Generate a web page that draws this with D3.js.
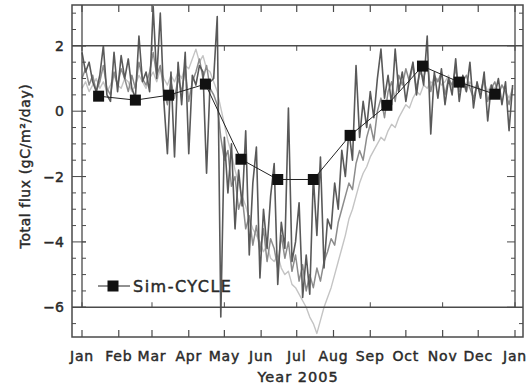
<!DOCTYPE html>
<html>
<head>
<meta charset="utf-8">
<script src="https://cdn.jsdelivr.net/npm/d3@7"></script>
<style>
  html, body { margin: 0; padding: 0; background: #fff; }
  svg { display: block; }
  text { font-family: "DejaVu Sans", sans-serif; fill: #2a2a2a; stroke: #2a2a2a; stroke-width: 0.45px; }
</style>
</head>
<body>
<svg id="chart" width="527" height="385"></svg>
<script>
// ---------------- data ----------------
const monthLabels = ["Jan","Feb","Mar","Apr","May","Jun","Jul","Aug","Sep","Oct","Nov","Dec","Jan"];
const yTickValues = [2, 0, -2, -4, -6];
const yearLabel = "Year 2005";
const yTitle = "Total flux (gC/m\u00B2/day)";
const legendLabel = "Sim-CYCLE";

// Sim-CYCLE monthly values (mid-month)
const simMonthIndex = [0,1,2,3,4,5,6,7,8,9,10,11];
const simValues = [0.46, 0.34, 0.49, 0.83, -1.47, -2.09, -2.09, -0.74, 0.18, 1.38, 0.89, 0.52];

// daily series sampled every 3 days starting Jan 1
const firstDay = 1, dayStep = 3;
const obsDark = [
  1.8, 1.2, 1.5, 0.9, 0.6, 1.1, 2.0, 0.5, 0.3, 1.8,
  0.6, 1.7, 1.0, 1.6, 0.7, 0.4, 2.3, 0.9, 1.2, 0.6,
  3.2, 1.0, 3.0, 0.3, -1.3, 1.2, -1.4, 1.5, 0.2, 1.8,
  -1.3, 1.1, 0.8, 1.4, 1.2, -1.9, 0.9, 1.0, 2.9, -6.3,
  -0.8, -2.5, -1.0, -3.6, -1.8, -2.9, -0.6, -4.4, -2.2, -1.1,
  -5.1, -3.0, -4.2, -2.6, -1.6, -5.3, -3.4, -4.2, 0.1, -4.6,
  -4.0, -2.8, -5.7, -4.4, -5.6, -2.0, -3.8, -1.4, -4.8, -3.3,
  -3.6, -2.2, -3.0, -1.2, -2.0, -0.6, -1.5, 1.4, -0.8, 0.3,
  -0.5, 0.6, -0.2, 1.0, 1.9, 0.4, 1.1, 0.2, 1.9, 0.6,
  1.2, 0.3, 1.0, 1.5, 0.5, 1.4, 0.8, 2.3, -0.7, 1.2,
  0.4, 1.3, 0.2, 1.0, 0.5, 1.6, 0.3, 1.1, 0.6, 1.5,
  0.1, 0.9, 0.4, 1.2, -0.3, 0.8, 0.5, 1.0, 0.2, 0.9,
  -0.6, 0.8
];
const obsMedium = [
  1.0, 1.3, 0.8, 1.1, 0.6, 0.9, 1.4, 0.7, 0.5, 1.2,
  0.8, 1.3, 1.0, 0.6, 1.1, 0.7, 1.5, 1.0, 0.8, 1.2,
  1.8, 1.1, 1.4, 0.6, 0.2, 0.9, 0.4, 1.0, 0.6, 1.3,
  0.3, 0.9, 1.2, 1.6, 1.0, 1.4, 0.7, 0.5, 0.2, -0.8,
  -1.5, -1.2, -2.3, -2.0, -3.0, -2.6, -3.6, -3.2, -4.1, -3.5,
  -4.3, -3.6, -4.6, -3.9, -4.2, -4.8, -3.8, -4.5, -4.0, -4.9,
  -4.4, -5.2, -4.7, -5.5, -5.0, -5.4, -4.8, -5.2, -4.6, -4.3,
  -3.9, -4.1, -3.4, -3.0, -2.6, -2.2, -2.4, -1.6, -1.2, -1.5,
  -0.8, -0.4, -0.9, 0.0, 0.4, -0.2, 0.6, 0.9, 0.3, 1.1,
  0.8, 1.3, 0.9, 1.4, 0.7, 1.2, 1.0, 1.5, 0.6, 1.1,
  0.9, 1.2, 0.5, 1.0, 0.8, 1.3, 0.6, 0.9, 1.1, 0.7,
  0.4, 0.8, 0.6, 1.0, 0.3, 0.7, 0.9, 0.5, 0.8, 0.6,
  0.2, 0.7
];
const obsLight = [
  0.7, 0.9, 0.6, 0.8, 1.0, 0.7, 0.9, 0.6, 0.8, 1.1,
  0.8, 0.7, 1.0, 0.9, 0.6, 0.8, 1.1, 0.9, 0.7, 1.0,
  1.2, 0.9, 1.3, 1.0, 0.8, 1.1, 0.9, 1.2, 1.0, 1.4,
  1.3, 1.6, 1.9, 1.5, 1.7, 1.3, 1.2, 0.9, 0.6, 0.1,
  -0.4, -0.9, -1.3, -1.8, -2.2, -2.6, -2.9, -3.3, -3.6, -3.8,
  -4.0, -4.3, -4.1, -4.5, -4.6, -4.4, -4.8, -5.0, -4.9, -5.3,
  -5.4, -5.6, -5.8, -6.0, -6.3, -6.5, -6.8, -6.4, -6.0, -5.7,
  -5.4, -5.0, -4.6, -4.2, -3.8, -3.3, -3.0, -2.6, -2.2, -1.9,
  -1.7, -1.4, -1.2, -1.0, -0.8, -0.9, -0.6, -0.4, -0.5, -0.2,
  0.0, 0.2, 0.1, 0.4, 0.6, 0.5, 0.8, 0.7, 0.9, 0.8,
  1.0, 0.8, 0.9, 1.1, 0.7, 0.9, 1.0, 0.8, 0.6, 0.9,
  0.7, 0.8, 0.5, 0.9, 0.6, 0.8, 0.7, 0.5, 0.8, 0.6,
  0.4, 0.7
];

// ---------------- layout ----------------
const svg = d3.select("#chart");
const outer = {left: 72, right: 523, top: 5, bottom: 337};
const inner = {left: 82, right: 515};

const x = d3.scaleTime()
  .domain([new Date(2005, 0, 1), new Date(2006, 0, 1)])
  .range([inner.left, inner.right]);
const y = d3.scaleLinear()
  .domain([-6.91, 3.25])
  .range([outer.bottom, outer.top]);

const dayDate = (i) => new Date(2005, 0, firstDay + i * dayStep);

svg.append("rect").attr("width", 527).attr("height", 385).attr("fill", "#fff");

svg.append("clipPath").attr("id", "clip")
  .append("rect")
  .attr("x", outer.left).attr("y", outer.top)
  .attr("width", outer.right - outer.left).attr("height", outer.bottom - outer.top);

const plot = svg.append("g").attr("clip-path", "url(#clip)");

const line = d3.line()
  .x((d, i) => x(dayDate(i)))
  .y(d => y(d));

[[obsLight, "#c4c4c4", 1.4], [obsMedium, "#8c8c8c", 1.5], [obsDark, "#595959", 1.6]].forEach(([data, color, w]) => {
  plot.append("path")
    .datum(data)
    .attr("d", line)
    .attr("fill", "none")
    .attr("stroke", color)
    .attr("stroke-width", w)
    .attr("stroke-linejoin", "round");
});

// Sim-CYCLE
const simPts = simMonthIndex.map((m, i) => ({date: new Date(2005, m, 15), v: simValues[i]}));
plot.append("path")
  .datum(simPts)
  .attr("d", d3.line().x(d => x(d.date)).y(d => y(d.v)))
  .attr("fill", "none").attr("stroke", "#222").attr("stroke-width", 1);
const sq = 11;
plot.selectAll("rect.sim").data(simPts).join("rect")
  .attr("class", "sim")
  .attr("x", d => x(d.date) - sq / 2).attr("y", d => y(d.v) - sq / 2)
  .attr("width", sq).attr("height", sq).attr("fill", "#111");

// ---------------- frame ----------------
const frameColor = "#4a4a4a";
const frame = svg.append("g").attr("stroke", frameColor).attr("fill", "none");
frame.append("rect")
  .attr("x", outer.left).attr("y", outer.top)
  .attr("width", outer.right - outer.left).attr("height", outer.bottom - outer.top)
  .attr("stroke-width", 1.5);
[2, -6].forEach(v => {
  frame.append("line").attr("x1", outer.left).attr("x2", outer.right)
    .attr("y1", y(v)).attr("y2", y(v)).attr("stroke-width", 1.5);
});
[inner.left, inner.right].forEach(xx => {
  frame.append("line").attr("x1", xx).attr("x2", xx)
    .attr("y1", outer.top).attr("y2", y(-6)).attr("stroke-width", 1.3);
});

// y ticks
const minorVals = d3.range(-6.5, 3.01, 0.5);
minorVals.forEach(v => {
  const major = Math.abs(v % 2) < 1e-9;
  frame.append("line").attr("x1", outer.left).attr("x2", outer.left + (major ? 14 : 4))
    .attr("y1", y(v)).attr("y2", y(v)).attr("stroke-width", 1);
  if (v >= -6 && v <= 2) {
    frame.append("line").attr("x1", inner.left).attr("x2", inner.left + 4)
      .attr("y1", y(v)).attr("y2", y(v)).attr("stroke-width", 1);
    frame.append("line").attr("x1", inner.right).attr("x2", inner.right - (major ? 8 : 4))
      .attr("y1", y(v)).attr("y2", y(v)).attr("stroke-width", 1);
  } else {
    frame.append("line").attr("x1", outer.right).attr("x2", outer.right - (major ? 8 : 4))
      .attr("y1", y(v)).attr("y2", y(v)).attr("stroke-width", 1);
  }
});

// x ticks
const monthDates = d3.range(13).map(m => new Date(2005, m, 1));
monthDates.forEach((d, m) => {
  frame.append("line").attr("x1", x(d)).attr("x2", x(d))
    .attr("y1", outer.bottom).attr("y2", outer.bottom - 7).attr("stroke-width", 1.2);
  frame.append("line").attr("x1", x(d)).attr("x2", x(d))
    .attr("y1", outer.top).attr("y2", outer.top + 7).attr("stroke-width", 1.2);
  if (m % 2 === 0) {
    frame.append("line").attr("x1", x(d)).attr("x2", x(d))
      .attr("y1", y(-6)).attr("y2", y(-6) - 5).attr("stroke-width", 1);
    frame.append("line").attr("x1", x(d)).attr("x2", x(d))
      .attr("y1", y(2)).attr("y2", y(2) + 5).attr("stroke-width", 1);
  }
});

// ---------------- labels ----------------
svg.selectAll("text.ytick").data(yTickValues).join("text")
  .attr("class", "ytick")
  .attr("x", 64).attr("y", d => y(d))
  .attr("dy", "0.36em")
  .attr("text-anchor", "end")
  .attr("font-size", 14)
  .text(d => d < 0 ? "\u2212" + Math.abs(d) : d);

svg.selectAll("text.month").data(monthDates).join("text")
  .attr("class", "month")
  .attr("x", d => x(d)).attr("y", 361)
  .attr("text-anchor", "middle")
  .attr("font-size", 14)
  .attr("letter-spacing", 0.8)
  .text((d, i) => monthLabels[i]);

svg.append("text")
  .attr("x", 298).attr("y", 382)
  .attr("text-anchor", "middle")
  .attr("font-size", 14.5)
  .attr("letter-spacing", 1)
  .text(yearLabel);

svg.append("text")
  .attr("transform", "translate(30,166) rotate(-90)")
  .attr("text-anchor", "middle")
  .attr("font-size", 14)
  .attr("letter-spacing", 0.6)
  .text(yTitle);

// legend
const lg = svg.append("g");
lg.append("line").attr("x1", 98).attr("x2", 130).attr("y1", 286).attr("y2", 286)
  .attr("stroke", "#222").attr("stroke-width", 1);
lg.append("rect").attr("x", 113 - sq / 2).attr("y", 286 - sq / 2)
  .attr("width", sq).attr("height", sq).attr("fill", "#111");
lg.append("text").attr("x", 133).attr("y", 292)
  .attr("font-size", 16).attr("letter-spacing", 1.5)
  .text(legendLabel);
</script>
</body>
</html>
